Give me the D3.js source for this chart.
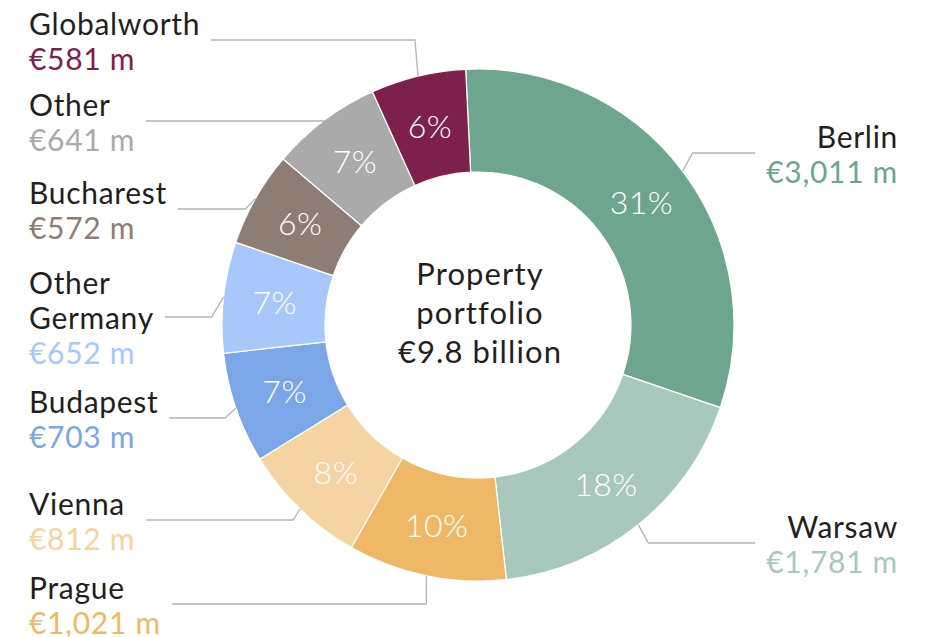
<!DOCTYPE html>
<html>
<head>
<meta charset="utf-8">
<script src="https://cdn.jsdelivr.net/npm/d3@7"></script>
<style>
  html, body { margin: 0; padding: 0; background: #ffffff; }
  svg { display: block; }
  text { font-family: "Lato", "Open Sans", sans-serif; font-weight: 400; }
  text.pct { font-weight: 300; }
</style>
</head>
<body>
<svg id="chart" width="925" height="637"></svg>
<script>
// ---- data ----
const categories = ["Berlin", "Warsaw", "Prague", "Vienna", "Budapest", "Other Germany", "Bucharest", "Other", "Globalworth"];
const valuesEURm = [3011, 1781, 1021, 812, 703, 652, 572, 641, 581];
const sharePct = [31, 18, 10, 8, 7, 7, 6, 7, 6];
const sliceColors = ["#6ea58f", "#a8c8bd", "#efb866", "#f5d3a3", "#7ba6e8", "#a8c8fc", "#8d7d74", "#aaaaaa", "#7d204b"];
const centerLines = ["Property", "portfolio", "€9.8 billion"];

// ---- layout (positions, not data) ----
const W = 925, H = 637;
const cx = 478, cy = 325;
const outerR = 256, innerR = 153;
const startAngle = -2.76 * Math.PI / 180;
// per-label leader settings: side (+1 right / -1 left), horizontal leader y, elbow x-offset from arc point
const labelLayout = [
  { side: 1, y: 153, dx: 10 },
  { side: 1, y: 543, dx: 10 },
  { side: -1, y: 604, dx: 0 },
  { side: -1, y: 520, dx: -7 },
  { side: -1, y: 418, dx: -11 },
  { side: -1, y: 317, dx: -12, wrap: true },
  { side: -1, y: 209, dx: -10 },
  { side: -1, y: 121, dx: 0 },
  { side: -1, y: 40, dx: -3 }
];
const leftX = 29, rightX = 898;
const fontSize = 30, lineH = 35, capH = 21, gap = 11, spacing = 0.7;

const svg = d3.select("#chart");

const rows = categories.map((c, i) => ({
  name: c, value: valuesEURm[i], share: sharePct[i], color: sliceColors[i], layout: labelLayout[i]
}));

const pie = d3.pie()
  .value(d => d.share)
  .sort(null)
  .startAngle(startAngle)
  .endAngle(startAngle + 2 * Math.PI);

const arcs = pie(rows);
const arc = d3.arc().innerRadius(innerR).outerRadius(outerR);
const edgeArc = d3.arc().innerRadius(outerR).outerRadius(outerR);

const g = svg.append("g").attr("transform", `translate(${cx},${cy})`);

g.selectAll("path.slice")
  .data(arcs)
  .join("path")
  .attr("class", "slice")
  .attr("d", arc)
  .attr("fill", d => d.data.color)
  .attr("stroke", "#ffffff")
  .attr("stroke-width", 1.2)
  .attr("stroke-linejoin", "round");

g.selectAll("text.pct")
  .data(arcs)
  .join("text")
  .attr("class", "pct")
  .attr("transform", d => `translate(${arc.centroid(d)})`)
  .attr("text-anchor", "middle")
  .attr("dy", "0.36em")
  .attr("fill", "#ffffff")
  .attr("font-size", 32)
  .attr("letter-spacing", 0.5)
  .text(d => d.data.share + "%");

// center text
const ct = svg.append("text")
  .attr("text-anchor", "middle")
  .attr("fill", "#231f20")
  .attr("font-size", 31)
  .attr("letter-spacing", 1.1);
centerLines.forEach((t, i) => {
  ct.append("tspan").attr("x", cx + 2).attr("y", 285 + i * 39).text(t);
});

// labels
const fmt = d3.format(",");
const labelsG = svg.append("g");
arcs.forEach(a => {
  const d = a.data, L = d.layout;
  const nameLines = L.wrap ? d.name.split(" ") : [d.name];
  const n = nameLines.length + 1;
  const firstBase = L.y + 1.5 - ((n - 1) * lineH + capH) / 2 + capH;
  const x = L.side > 0 ? rightX : leftX;
  const anchor = L.side > 0 ? "end" : "start";
  const t = labelsG.append("text")
    .attr("text-anchor", anchor)
    .attr("font-size", fontSize)
    .attr("letter-spacing", spacing);
  nameLines.forEach((nl, i) => {
    t.append("tspan").attr("x", x).attr("y", firstBase + i * lineH).attr("fill", "#231f20").text(nl);
  });
  t.append("tspan").attr("x", x).attr("y", firstBase + nameLines.length * lineH)
    .attr("fill", d.color).text("€" + fmt(d.value) + " m");

  const bw = t.node().getBBox().width;
  const [px, py] = edgeArc.centroid(a);
  const ax = cx + px, ay = cy + py;
  const ex = ax + L.dx;
  const endX = L.side > 0 ? rightX - bw - gap : leftX + bw + gap;
  labelsG.append("path")
    .attr("d", d3.line()([[ax, ay], [ex, L.y], [endX, L.y]]))
    .attr("fill", "none")
    .attr("stroke", "#b3b3b3")
    .attr("stroke-width", 1.3);
});
</script>
</body>
</html>
